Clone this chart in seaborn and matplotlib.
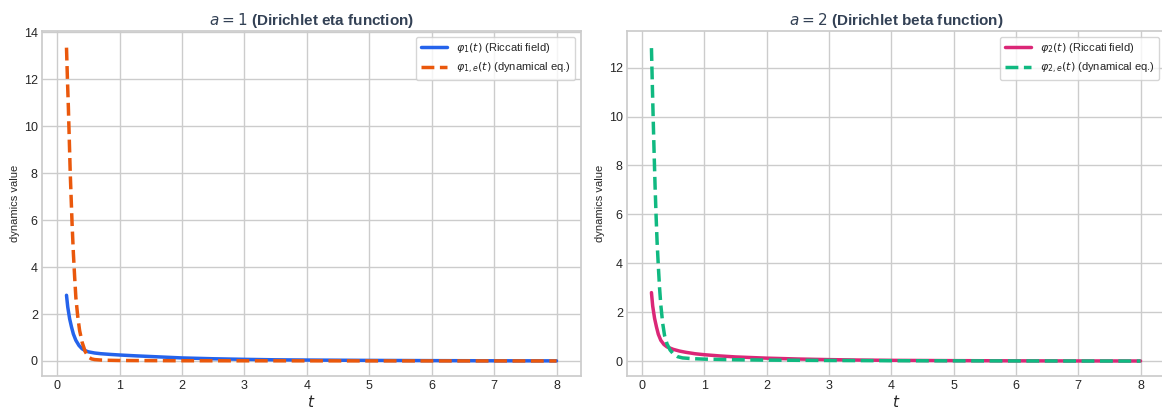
import numpy as np
import pandas as pd
import matplotlib
matplotlib.use("Agg")
import matplotlib.pyplot as plt
import seaborn as sns

# values
t_riccati_1 = [0.15, 0.17, 0.2, 0.23, 0.26, 0.3, 0.35, 0.4, 0.45, 0.5, 0.6, 0.7, 0.85,
               1.0, 1.25, 1.5, 2.0, 2.5, 3.0, 3.5, 4.0, 5.0, 6.0, 7.0, 8.0]
phi_riccati_1 = [2.8, 2.3, 1.8, 1.45, 1.15, 0.88, 0.66, 0.52, 0.44, 0.39, 0.34, 0.31, 0.28,
                 0.255, 0.22, 0.19, 0.13, 0.095, 0.07, 0.05, 0.04, 0.025, 0.015, 0.008, 0.005]

t_dyn_1 = [0.15, 0.165, 0.18, 0.195, 0.21, 0.225, 0.24, 0.26, 0.28, 0.3, 0.33, 0.36, 0.4,
           0.45, 0.5, 0.55, 0.6, 0.7, 0.8, 1.0, 1.5, 2.0, 3.0, 4.0, 5.0, 6.0, 7.0, 8.0]
phi_dyn_1 = [13.35, 12.0, 10.8, 9.4, 8.0, 6.9, 5.8, 4.6, 3.6, 2.7, 1.9, 1.3, 0.8,
             0.4, 0.17, 0.09, 0.06, 0.04, 0.03, 0.02, 0.015, 0.01, 0.008, 0.006, 0.004, 0.003, 0.002, 0.001]

t_riccati_2 = [0.15, 0.17, 0.2, 0.23, 0.26, 0.3, 0.35, 0.4, 0.45, 0.5, 0.6, 0.7, 0.85,
               1.0, 1.25, 1.5, 2.0, 2.5, 3.0, 3.5, 4.0, 5.0, 6.0, 7.0, 8.0]
phi_riccati_2 = [2.8, 2.25, 1.75, 1.4, 1.1, 0.85, 0.68, 0.58, 0.53, 0.48, 0.41, 0.36, 0.3,
                 0.26, 0.21, 0.17, 0.12, 0.085, 0.06, 0.042, 0.03, 0.018, 0.01, 0.006, 0.004]

t_dyn_2 = [0.15, 0.165, 0.18, 0.195, 0.21, 0.225, 0.24, 0.26, 0.28, 0.3, 0.33, 0.36, 0.4,
           0.45, 0.5, 0.57, 0.65, 0.8, 1.0, 1.5, 2.0, 3.0, 4.0, 5.0, 6.0, 7.0, 8.0]
phi_dyn_2 = [12.8, 11.2, 9.7, 8.3, 7.0, 5.9, 4.9, 3.9, 3.0, 2.3, 1.55, 1.05, 0.7,
             0.45, 0.3, 0.18, 0.13, 0.1, 0.08, 0.055, 0.04, 0.025, 0.015, 0.01, 0.006, 0.003, 0.001]

sns.set_theme(style="whitegrid")
plt.rcParams["font.family"] = ["Liberation Sans", "DejaVu Sans"]
plt.rcParams["mathtext.fontset"] = "dejavusans"

panels = [
    (r"$a = 1$ (Dirichlet eta function)", t_riccati_1, phi_riccati_1, t_dyn_1, phi_dyn_1,
     r"$\varphi_1(t)$ (Riccati field)", r"$\varphi_{1,e}(t)$ (dynamical eq.)", "#2563eb", "#ea580c",
     (-0.64, 14.06)),
    (r"$a = 2$ (Dirichlet beta function)", t_riccati_2, phi_riccati_2, t_dyn_2, phi_dyn_2,
     r"$\varphi_2(t)$ (Riccati field)", r"$\varphi_{2,e}(t)$ (dynamical eq.)", "#db2777", "#10b981",
     (-0.61, 13.5)),
]

W, H = 1162, 408
fig = plt.figure(figsize=(W / 100, H / 100), dpi=100)
ax1 = fig.add_axes([42 / W, (H - 376) / H, (581 - 42) / W, (376 - 31) / H])
ax2 = fig.add_axes([627 / W, (H - 376) / H, (1165 - 627) / W, (376 - 31) / H])

for ax, (title, tr, pr, td, pd_, lr, ld, cr, cd, ylim) in zip([ax1, ax2], panels):
    sns.lineplot(x=tr, y=pr, ax=ax, color=cr, linewidth=2.5, label=lr)
    sns.lineplot(x=td, y=pd_, ax=ax, color=cd, linewidth=2.5, linestyle="--", label=ld)
    ax.set_ylim(*ylim)
    ax.set_title(title, fontsize=11, fontweight="bold", color="#334155", pad=4)
    ax.set_xlabel("$t$", fontsize=11, labelpad=1)
    ax.set_ylabel("dynamics value", fontsize=8, labelpad=3)
    ax.tick_params(labelsize=9, length=0, pad=3)
    ax.legend(loc="upper right", fontsize=8, frameon=True, handlelength=2.4)

plt.savefig("out.png", dpi=100)
